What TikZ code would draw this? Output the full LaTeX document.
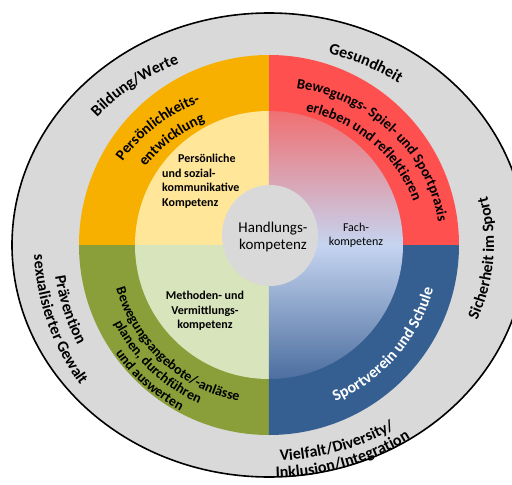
\documentclass[tikz,border=0pt]{standalone}
\usepackage{fontspec}
\setmainfont{Carlito}
\usetikzlibrary{decorations.text}
\definecolor{ringgray}{HTML}{D9D9D9}
\definecolor{orangeR}{HTML}{F7B000}
\definecolor{yellowL}{HTML}{FFE699}
\definecolor{redR}{HTML}{FF5050}
\definecolor{blueR}{HTML}{355F91}
\definecolor{greenR}{HTML}{8A9F3A}
\definecolor{greenL}{HTML}{D8E4BC}
\definecolor{gradTop}{HTML}{F07072}
\definecolor{gradMid}{HTML}{C5D4F0}
\definecolor{gradBot}{HTML}{4C6E9F}
\newcommand\olbl{\bfseries\fontsize{16}{16}\selectfont}
\newcommand\rlbl{\bfseries\fontsize{15}{15}\selectfont}
\newcommand\rlblsmall{\bfseries\fontsize{14.5}{14.5}\selectfont}
\newcommand\rlblgreen{\bfseries\fontsize{14}{14}\selectfont}
\newcommand\rlblbig{\bfseries\fontsize{16}{16}\selectfont}
\tikzset{
  arctext/.style={decorate, decoration={text along path, text align=center, text={#1}}},
  innertext/.style={inner sep=0pt, text=black, font=\bfseries\fontsize{12}{14.5}\selectfont},
}
\begin{document}
\begin{tikzpicture}[x=1pt,y=1pt]
\useasboundingbox (-269,-240) rectangle (243,245);
\clip (-269,-240) rectangle (243,245);
\fill[white] (-269,-240) rectangle (243,245);
% outer gray ring
\path[fill=ringgray, draw=black, line width=1.6pt] (0,0) ellipse [x radius=257, y radius=232];
% coloured ring quadrants
\fill[redR] (0,0) -- (0:190) arc[start angle=0, end angle=90, radius=190] -- cycle;
\fill[orangeR] (0,0) -- (90:190) arc[start angle=90, end angle=180, radius=190] -- cycle;
\fill[greenR] (0,0) -- (180:190) arc[start angle=180, end angle=270, radius=190] -- cycle;
\fill[blueR] (0,0) -- (270:190) arc[start angle=270, end angle=360, radius=190] -- cycle;
% inner quadrants
\fill[yellowL] (0,0) -- (90:134) arc[start angle=90, end angle=180, radius=134] -- cycle;
\fill[greenL] (0,0) -- (180:134) arc[start angle=180, end angle=270, radius=134] -- cycle;
\shade[top color=gradTop, bottom color=gradBot, middle color=gradMid]
  (0,-134) arc[start angle=-90, end angle=90, radius=134] -- cycle;
% centre
\fill[ringgray] (1,9.5) ellipse [x radius=48, y radius=50.5];
\node[inner sep=0pt, align=center, font=\fontsize{15}{17}\selectfont] (hk) at (4,8) {Handlungs-\\kompetenz};
\node[innertext, anchor=west, align=left] (psk) at (-107,64) {\hspace*{16pt}Persönliche\\und sozial-\\kommunikative\\Kompetenz};
\node[innertext, align=center] (mvk) at (-64,-66) {Methoden- und\\Vermittlungs-\\kompetenz};
\node[inner sep=0pt, align=center, font=\fontsize{12}{14}\selectfont] (fk) at (87,10) {Fach-\\kompetenz};
% outer labels
\path[arctext={|\olbl|Bildung/Werte}] (150:225 and 198) arc[start angle=150, end angle=104, x radius=225, y radius=198];
\path[arctext={|\olbl|Gesundheit}] (85:225 and 198) arc[start angle=85, end angle=44, x radius=225, y radius=198];
\path[arctext={|\olbl|Sicherheit im Sport}] (-34:225 and 198) arc[start angle=-34, end angle=26, x radius=225, y radius=198];
\path[arctext={|\olbl|Vielfalt/Diversity/}] (-105:240 and 216) arc[start angle=-105, end angle=-40, x radius=240, y radius=216];
\path[arctext={|\olbl|Inklusion/Integration}] (-106:254 and 233) arc[start angle=-106, end angle=-38, x radius=254, y radius=233];
\path[arctext={|\olbl|Prävention}] (168:216) arc[start angle=168, end angle=228, radius=216];
\path[arctext={|\olbl|sexualisierter Gewalt}] (160:235) arc[start angle=160, end angle=239, radius=235];
% ring labels
\path[arctext={|\rlbl|Persönlichkeits-}] (175:174 and 155) arc[start angle=175, end angle=88, x radius=174, y radius=155];
\path[arctext={|\rlbl|entwicklung}] (172:151 and 136) arc[start angle=172, end angle=90, x radius=151, y radius=136];
\path[arctext={|\rlblsmall|Bewegungs- Spiel- und Sportpraxis}] (96:171 and 159) arc[start angle=96, end angle=-8, x radius=171, y radius=159];
\path[arctext={|\rlblsmall|erleben und reflektieren}] (100:152 and 138) arc[start angle=100, end angle=-8, x radius=152, y radius=138];
\path[arctext={|\rlblbig\color{white}|Sportverein und Schule}] (-85:170) arc[start angle=-85, end angle=3, radius=170];
\path[arctext={|\rlblgreen|Bewegungsangebote/-anlässe}] (180:159) arc[start angle=180, end angle=275, radius=159];
\path[arctext={|\rlblgreen|planen, durchführen}] (178:173.5) arc[start angle=178, end angle=275, radius=173.5];
\path[arctext={|\rlblgreen|und auswerten}] (182:188) arc[start angle=182, end angle=275, radius=188];
\end{tikzpicture}
\end{document}
